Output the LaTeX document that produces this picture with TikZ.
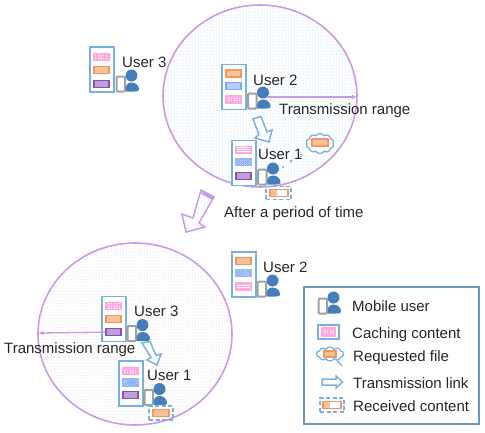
\documentclass[tikz,border=0pt]{standalone}
\usepackage{fontspec}
\setmainfont{Liberation Sans}
\usetikzlibrary{arrows.meta, patterns.meta, shapes.symbols}
\definecolor{rangepurple}{HTML}{C79BEA}
\definecolor{panelblue}{HTML}{7AB0E0}
\definecolor{usergrey}{HTML}{A0A0A0}
\definecolor{userblue}{HTML}{447FBC}
\definecolor{fileorange}{HTML}{F2975A}
\definecolor{filepink}{HTML}{FFA8E2}
\definecolor{fileblue}{HTML}{7AA6F5}
\definecolor{filepurple}{HTML}{8A50B8}
\tikzset{
  every node/.style={font=\fontsize{15}{18}\selectfont},
  txt/.style={anchor=base west, inner sep=0pt, text=black!85},
  rangetop/.style={draw=rangepurple, line width=1.6pt, pattern={Dots[distance=3pt,radius=.5pt]}, pattern color=panelblue!60},
  rangelow/.style={draw=rangepurple, line width=1.6pt, pattern={Dots[distance=3pt,radius=.5pt]}, pattern color=black!18},
  rangeline/.style={draw=rangepurple, line width=1.3pt, -{Latex[length=5pt,width=4.5pt]}},
  linkarrow/.style={draw=panelblue, line width=1.5pt, fill=white},
  panel/.style={draw=panelblue, line width=1.7pt, fill=white, inner sep=0pt, minimum width=24pt, minimum height=45pt},
  item/.style={line width=1.2pt, inner sep=0pt, minimum width=15pt, minimum height=7pt},
  pinkgrid/.style={item, draw=filepink, preaction={fill=white}, pattern={Hatch[distance=1.6pt,angle=0,line width=.5pt]}, pattern color=filepink},
  pinkline/.style={item, draw=filepink, preaction={fill=white}, pattern={Lines[distance=2pt,angle=0,line width=.5pt]}, pattern color=filepink},
  bluecheck/.style={item, draw=fileblue!80, preaction={fill=white}, pattern={Hatch[distance=1.5pt,angle=45,line width=.7pt]}, pattern color=fileblue},
  blueflat/.style={item, draw=fileblue, fill=fileblue!55},
  orangeflat/.style={item, draw=fileorange, fill=fileorange!60},
  purpleflat/.style={item, draw=filepurple, fill=filepurple!55},
  dashbox/.style={draw=panelblue, line width=1.4pt, dash pattern=on 4pt off 2.5pt, inner sep=0pt, minimum width=25pt, minimum height=13pt},
  thought/.style={cloud, cloud puffs=10, cloud puff arc=120, aspect=1.6, draw=panelblue, line width=1.3pt, fill=white, inner sep=0pt},
  bubble/.style={circle, fill=panelblue, draw=panelblue, inner sep=0pt},
  mobileuser/.pic={
    \draw[usergrey, line width=2pt, fill=white, rounded corners=1pt] (0,-15) rectangle (8.5,0);
    \fill[userblue] (15,-16) circle (6pt);
    \fill[userblue] (9.5,0) .. controls (8,-6) and (11,-9) .. (15,-9) .. controls (19,-9) and (23,-6) .. (22.5,-1.5) .. controls (22,0) and (20,0) .. (18,0) -- cycle;
  },
}
\begin{document}
\begin{tikzpicture}[x=1pt,y=-1pt]
\useasboundingbox (0,0) rectangle (485,432);

% upper cell
\draw[rangetop] (260,96) ellipse [x radius=97pt, y radius=91pt];

% user 3, out of range
\node[panel] (panelA) at (102,69.5) {};
\node[pinkgrid] (fileAa) at (101.5,57) {};
\node[orangeflat] (fileAb) at (101.5,70) {};
\node[purpleflat] (fileAc) at (101.5,84) {};
\pic at (116.5,91.5) {mobileuser};
\node[txt] (labelA) at (122,67) {User 3};

% user 2
\node[panel] (panelB) at (234,87) {};
\node[orangeflat] (fileBa) at (233.5,73.5) {};
\node[blueflat] (fileBb) at (233.5,86) {};
\node[pinkgrid] (fileBc) at (233.5,99.5) {};
\pic at (248,108.5) {mobileuser};
\node[txt] (labelB) at (253,85) {User 2};
\coordinate (rangeB) at (357,97);
\draw[rangeline] (267,97) -- (rangeB);
\node[txt] (rangeTextB) at (279,114.5) {Transmission range};

% link from user 2 to user 1
\draw[linkarrow] (253,119) -- (261,116.5) -- (267,132) -- (272,130) -- (269,142) -- (255,138) -- (259,134.5) -- cycle;

% user 1
\node[panel] (panelC) at (244,163) {};
\node[pinkline] (fileCa) at (243.5,150) {};
\node[bluecheck] (fileCb) at (243.5,162) {};
\node[purpleflat] (fileCc) at (243.5,176) {};
\pic at (258,184.5) {mobileuser};
\node[txt] (labelC) at (258,159) {User 1};
\node[thought, minimum width=28pt, minimum height=20pt] (cloudC) at (320,143.5) {};
\node[orangeflat, minimum width=16pt] (wantC) at (320,142.5) {};
\node[bubble, minimum size=3pt, fill=white] (bubbleCa) at (301,155.5) {};
\node[bubble, minimum size=2.5pt] (bubbleCb) at (291,161) {};
\node[bubble, minimum size=1.5pt] (bubbleCc) at (283,167) {};
\node[dashbox] (gotC) at (278.5,193) {};
\node[item, draw=fileorange, fill=white, minimum width=18pt] (gotfileC) at (279,193) {};
\fill[fileorange!60] (270.5,190) rectangle (277,196);

% after a period of time
\draw[draw=rangepurple, line width=1.5pt, pattern={Dots[distance=3pt,radius=.5pt]}, pattern color=panelblue!60] (201,190) -- (214,197) -- (199,223) -- (205,227) -- (186,232) -- (182,214) -- (193,218) -- cycle;
\draw[rangepurple, line width=4pt] (202,192) -- (213.5,198.5);
\node[txt] (labelTime) at (224,217) {After a period of time};

% lower cell
\draw[rangelow] (135,334) ellipse [x radius=97pt, y radius=91pt];

% user 2, out of range
\node[panel] (panelD) at (244,274.5) {};
\node[orangeflat] (fileDa) at (243.5,261) {};
\node[bluecheck] (fileDb) at (243.5,273) {};
\node[pinkline] (fileDc) at (243.5,286.5) {};
\pic at (257.5,296.5) {mobileuser};
\node[txt] (labelD) at (263,272) {User 2};

% user 3
\node[panel] (panelE) at (114,319) {};
\node[pinkgrid] (fileEa) at (113.5,306) {};
\node[orangeflat] (fileEb) at (113.5,319) {};
\node[purpleflat] (fileEc) at (113.5,332) {};
\pic at (127.5,341) {mobileuser};
\node[txt] (labelE) at (134,316.5) {User 3};
\coordinate (rangeE) at (38.5,333);
\draw[rangeline] (fileEc) -- (rangeE);
\node[txt] (rangeTextE) at (4,353) {Transmission range};

% link from user 3 to user 1
\draw[linkarrow] (142,343) -- (150,341.5) -- (156,355.5) -- (161,354) -- (157,365) -- (147,360) -- (151,357.5) -- cycle;

% user 1
\node[panel] (panelF) at (131,383.5) {};
\node[pinkgrid] (fileFa) at (130.5,371) {};
\node[bluecheck] (fileFb) at (130.5,382.5) {};
\node[purpleflat] (fileFc) at (130.5,395) {};
\pic at (144.5,405) {mobileuser};
\node[txt] (labelF) at (147,380) {User 1};
\node[dashbox, minimum width=24pt, minimum height=14pt] (gotF) at (161,413) {};
\node[orangeflat, minimum width=16pt] (gotfileF) at (161,413) {};

% legend
\node[draw=panelblue!85!black, line width=1.7pt, inner sep=0pt, minimum width=175pt, minimum height=137pt] (legend) at (391.5,355.5) {};
\pic at (318.5,313.5) {mobileuser};
\node[txt] (keyA) at (352,311) {Mobile user};
\node[panel, minimum width=21pt, minimum height=14pt] (keyBox) at (328.5,332) {};
\node[pinkgrid, minimum width=13pt, minimum height=8pt] (keyFile) at (328.5,332) {};
\node[txt] (keyB) at (352,338) {Caching content};
\coordinate (keyTail) at (342,366);
\draw[panelblue, line width=1.3pt] (336,359) -- (keyTail);
\node[thought, minimum width=27pt, minimum height=14pt] (keyCloud) at (330,354) {};
\node[orangeflat, minimum width=12pt, minimum height=6pt] (keyWant) at (330,354) {};
\node[txt] (keyC) at (353,361) {Requested file};
\draw[linkarrow] (322,379) -- (336,379) -- (336,376) -- (342.5,382) -- (336,388) -- (336,385) -- (322,385) -- cycle;
\node[txt] (keyD) at (353,388) {Transmission link};
\node[dashbox, minimum width=24pt, minimum height=14pt] (keyGot) at (332,405) {};
\node[item, draw=fileorange, fill=white, minimum width=18pt] (keyGotFile) at (332,405) {};
\fill[fileorange!60] (323.5,402) rectangle (330,408);
\node[txt] (keyE) at (353,411) {Received content};
\end{tikzpicture}
\end{document}
